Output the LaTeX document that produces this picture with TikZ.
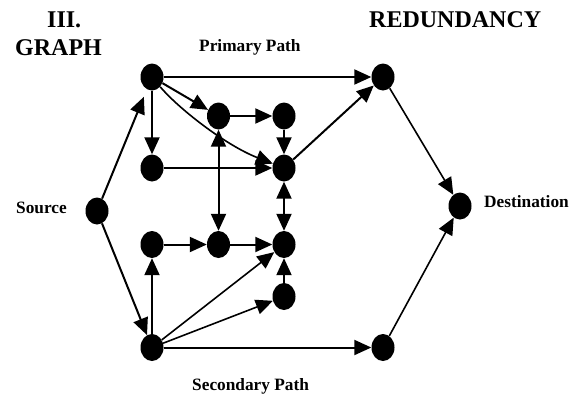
\documentclass[tikz,border=0pt]{standalone}
\usepackage{fontspec}
\setmainfont{Liberation Serif}
\usetikzlibrary{arrows.meta,shapes.geometric}
\begin{document}
\begin{tikzpicture}[x=1pt,y=-1pt,
  vtx/.style={ellipse, fill=black, minimum width=23pt, minimum height=27pt, inner sep=0pt},
  arr/.style={line width=2pt, -{Triangle[length=17pt,width=15pt]}},
  dbl/.style={line width=2pt, {Triangle[length=17pt,width=15pt]}-{Triangle[length=17pt,width=15pt]}},
  thin/.style={line width=1.6pt},
  lbl/.style={anchor=base west, inner sep=0pt, font=\bfseries\fontsize{17.3}{20}\selectfont},
  ttl/.style={anchor=base west, inner sep=0pt, font=\bfseries\fontsize{24}{28}\selectfont}]
\useasboundingbox (0,0) rectangle (569,397);

% titles and labels
\node[ttl] (t1) at (47,27) {III.};
\node[ttl] (t2) at (15,55) {GRAPH};
\node[ttl] (t3) at (369,27) {REDUNDANCY};
\node[lbl] (lp) at (199,51) {Primary Path};
\node[lbl] (ls) at (192,390) {Secondary Path};
\node[lbl] (lsrc) at (16,213) {Source};
\node[lbl] (ldst) at (484,207) {Destination};

% vertices
\node[vtx] (src) at (97,211) {};
\node[vtx] (a)   at (152,77) {};
\node[vtx] (b)   at (152,347.5) {};
\node[vtx] (p1)  at (383,77) {};
\node[vtx] (s1)  at (383,347.5) {};
\node[vtx] (dst) at (460,206) {};
\node[vtx] (n1)  at (218.5,116) {};
\node[vtx] (n2)  at (284,116) {};
\node[vtx] (n3)  at (152,168) {};
\node[vtx] (n4)  at (284,168) {};
\node[vtx] (n5)  at (152,244.5) {};
\node[vtx] (n6)  at (218.5,244.5) {};
\node[vtx] (n7)  at (284,244.5) {};
\node[vtx] (n8)  at (284,296.5) {};

% primary side
\draw[arr, shorten >=8pt] (src) -- (a);
\draw[arr] (a) -- (p1);
\draw[arr] (a) -- (n1);
\draw[arr, thin] (a) .. controls (178,108) and (225,145) .. (n4);
\draw[arr] (a) -- (n3);
\draw[arr] (n1) -- (n2);
\draw[arr] (n2) -- (n4);
\draw[arr] (n3) -- (n4);
\draw[arr] (n4) -- (p1);
\draw[arr, thin] (p1) -- (dst);

% cross links
\draw[dbl] (n1) -- (n6);
\draw[dbl] (n4) -- (n7);

% secondary side
\draw[arr] (src) -- (b);
\draw[arr] (b) -- (n5);
\draw[arr] (n5) -- (n6);
\draw[arr] (n6) -- (n7);
\draw[arr] (n8) -- (n7);
\draw[arr, thin] (b) -- (n7);
\draw[arr, thin] (b) -- (n8);
\draw[arr] (b) -- (s1);
\draw[arr, thin] (s1) -- (dst);
\end{tikzpicture}
\end{document}
